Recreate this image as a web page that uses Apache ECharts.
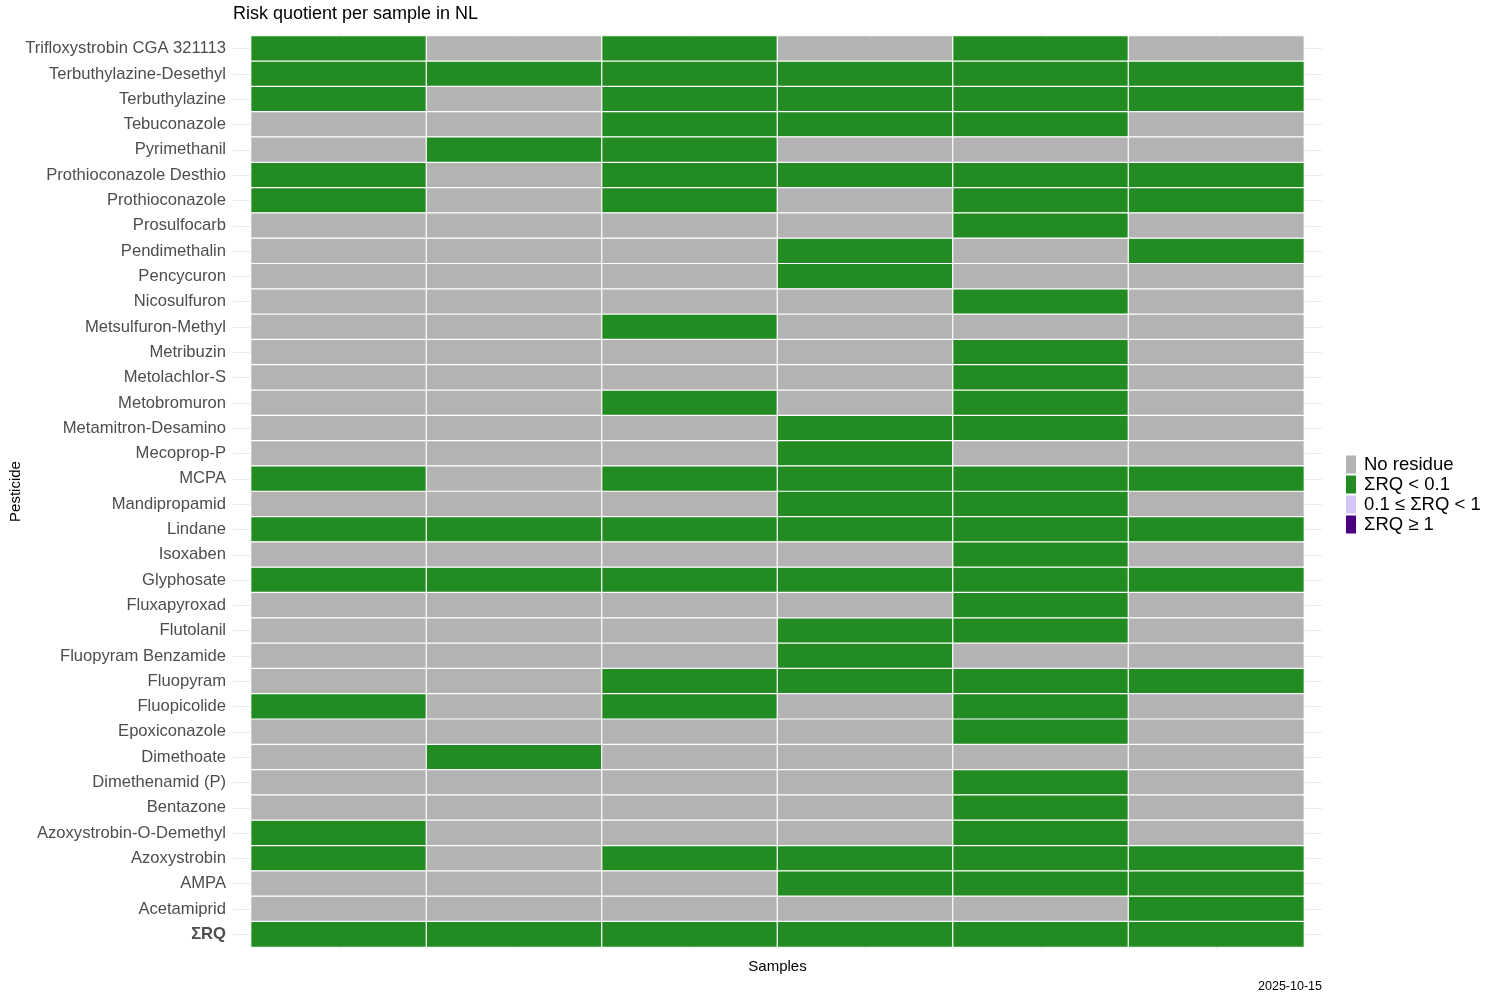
<!DOCTYPE html>
<html>
<head>
<meta charset="utf-8">
<script src="https://cdn.jsdelivr.net/npm/echarts@6/dist/echarts.min.js"></script>
<style>html,body{margin:0;padding:0;background:#fff;}#c{width:1500px;height:1000px;}</style>
</head>
<body>
<div id="c"></div>
<script>
// Pesticides, top to bottom
const pesticides = [
  'Trifloxystrobin CGA 321113','Terbuthylazine-Desethyl','Terbuthylazine','Tebuconazole','Pyrimethanil',
  'Prothioconazole Desthio','Prothioconazole','Prosulfocarb','Pendimethalin','Pencycuron','Nicosulfuron',
  'Metsulfuron-Methyl','Metribuzin','Metolachlor-S','Metobromuron','Metamitron-Desamino','Mecoprop-P',
  'MCPA','Mandipropamid','Lindane','Isoxaben','Glyphosate','Fluxapyroxad','Flutolanil','Fluopyram Benzamide',
  'Fluopyram','Fluopicolide','Epoxiconazole','Dimethoate','Dimethenamid (P)','Bentazone',
  'Azoxystrobin-O-Demethyl','Azoxystrobin','AMPA','Acetamiprid','ΣRQ'
];
const samples = ['S1','S2','S3','S4','S5','S6'];
// Category codes: 0 = No residue, 1 = ΣRQ < 0.1, 2 = 0.1 ≤ ΣRQ < 1, 3 = ΣRQ ≥ 1
const sample1 = [1,1,1,0,0,1,1,0,0,0,0,0,0,0,0,0,0,1,0,1,0,1,0,0,0,0,1,0,0,0,0,1,1,0,0,1];
const sample2 = [0,1,0,0,1,0,0,0,0,0,0,0,0,0,0,0,0,0,0,1,0,1,0,0,0,0,0,0,1,0,0,0,0,0,0,1];
const sample3 = [1,1,1,1,1,1,1,0,0,0,0,1,0,0,1,0,0,1,0,1,0,1,0,0,0,1,1,0,0,0,0,0,1,0,0,1];
const sample4 = [0,1,1,1,0,1,0,0,1,1,0,0,0,0,0,1,1,1,1,1,0,1,0,1,1,1,0,0,0,0,0,0,1,1,0,1];
const sample5 = [1,1,1,1,0,1,1,1,0,0,1,0,1,1,1,1,0,1,1,1,1,1,1,1,0,1,1,1,0,1,1,1,1,1,0,1];
const sample6 = [0,1,1,0,0,1,1,0,1,0,0,0,0,0,0,0,0,1,0,1,0,1,0,0,0,1,0,0,0,0,0,0,1,1,1,1];
const categoryLabels = ['No residue','ΣRQ < 0.1','0.1 ≤ ΣRQ < 1','ΣRQ ≥ 1'];
const categoryColors = ['#b3b3b3','#228b22','#d5c6fa','#4b0082'];

const columns = [sample1, sample2, sample3, sample4, sample5, sample6];
const data = [];
columns.forEach((col, c) => col.forEach((v, r) => data.push([c, r, v])));

const FONT = 'Liberation Sans, Arial, sans-serif';
const tickStyle = {color: '#ebebeb', width: 1};

const chart = echarts.init(document.getElementById('c'), null, {renderer: 'canvas'});
chart.setOption({
  backgroundColor: '#ffffff',
  animation: false,
  textStyle: {fontFamily: FONT},
  title: [
    {text: 'Risk quotient per sample in NL', left: 233, top: 5, padding: 0,
     textStyle: {fontFamily: FONT, fontSize: 18, fontWeight: 'normal', color: '#000'}},
    {text: '2025-10-15', right: 178, bottom: 7, padding: 0,
     textStyle: {fontFamily: FONT, fontSize: 12.5, fontWeight: 'normal', color: '#000'}}
  ],
  grid: {left: 251, right: 196, top: 36, bottom: 53, containLabel: false, outerBoundsMode: 'none'},
  xAxis: [
    {type: 'category', data: samples, position: 'bottom',
     axisLine: {show: false}, axisLabel: {show: false},
     axisTick: {show: true, alignWithLabel: true, length: 3, lineStyle: tickStyle},
     splitLine: {show: false},
     name: 'Samples', nameLocation: 'middle', nameGap: 12, nameMoveOverlap: false,
     nameTextStyle: {fontFamily: FONT, fontSize: 15, color: '#000'}},
    {type: 'category', data: samples, position: 'top',
     axisLine: {show: false}, axisLabel: {show: false},
     axisTick: {show: true, alignWithLabel: true, length: 3, lineStyle: tickStyle}}
  ],
  yAxis: [
    {type: 'category', data: pesticides, inverse: true, position: 'left',
     axisLine: {show: false},
     axisTick: {show: true, alignWithLabel: true, length: 18, lineStyle: tickStyle},
     axisLabel: {margin: 25, fontFamily: FONT, fontSize: 16.6, color: '#4d4d4d',
       formatter: v => v === 'ΣRQ' ? '{b|' + v + '}' : v,
       rich: {b: {fontFamily: FONT, fontSize: 16.6, fontWeight: 'bold', color: '#4d4d4d'}}},
     name: 'Pesticide', nameLocation: 'middle', nameGap: 228, nameRotate: 90, nameMoveOverlap: false,
     nameTextStyle: {fontFamily: FONT, fontSize: 15, color: '#000'}},
    {type: 'category', data: pesticides, inverse: true, position: 'right',
     axisLine: {show: false}, axisLabel: {show: false},
     axisTick: {show: true, alignWithLabel: true, length: 18, lineStyle: tickStyle}}
  ],
  visualMap: {
    type: 'piecewise', dimension: 2, seriesIndex: 0,
    orient: 'vertical', left: 1346, top: 455, padding: 0,
    align: 'left', inverse: true,
    itemWidth: 10, itemHeight: 18, itemGap: 1, itemSymbol: 'rect',
    textGap: 8, selectedMode: false, showLabel: true,
    textStyle: {fontFamily: FONT, fontSize: 18.5, color: '#000'},
    pieces: categoryLabels.map((l, i) => ({value: i, label: l, color: categoryColors[i]}))
  },
  series: [{
    type: 'heatmap', xAxisIndex: 0, yAxisIndex: 0, data: data,
    itemStyle: {borderColor: '#ffffff', borderWidth: 1.2},
    emphasis: {disabled: true}
  }]
});
</script>
</body>
</html>
